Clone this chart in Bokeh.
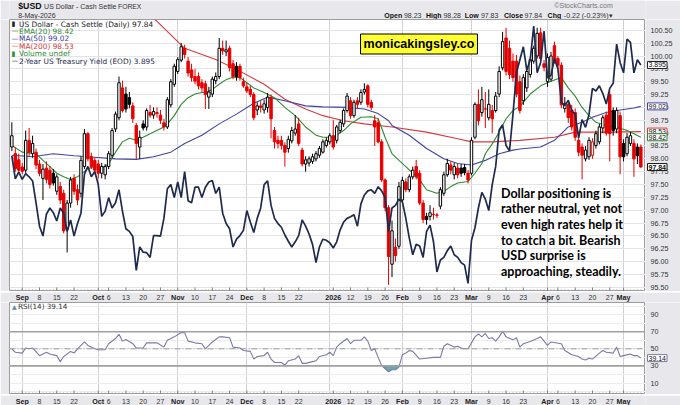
import pandas as pd
from bokeh.plotting import figure
from bokeh.models import Range1d, FixedTicker, Label, Span
from bokeh.layouts import column, row
from bokeh.embed import file_html
from bokeh.resources import INLINE

# ---------------- data ----------------
dates = pd.bdate_range("2025-08-27", "2026-05-08")

opens = [98.23, 98.10, 97.98, 97.84, 97.78, 98.36, 98.10, 98.13, 97.90, 97.62,
         97.82, 97.78, 97.72, 97.37, 97.46, 97.33, 96.63, 97.14, 97.62, 97.40,
         97.33, 97.85, 98.49, 98.04, 97.97, 97.90, 97.72, 97.69, 97.85, 98.07,
         98.58, 98.80, 99.38, 99.26, 99.19, 99.03, 98.65, 98.23, 98.68, 98.62,
         98.90, 98.85, 98.90, 98.85, 98.70, 98.62, 99.05, 99.45, 99.70, 99.92,
         100.15, 99.90, 99.73, 99.60, 99.60, 99.48, 99.46, 99.20, 99.26, 99.52,
         99.60, 100.15, 100.08, 100.15, 99.85, 99.80, 99.80, 99.50, 99.40, 99.35,
         99.25, 98.95, 99.03, 98.95, 99.00, 99.19, 98.55, 98.36, 98.36, 98.26,
         98.20, 98.35, 98.50, 98.68, 98.17, 97.90, 97.92, 97.95, 98.00, 98.07,
         98.13, 98.26, 98.33, 98.45, 98.36, 98.55, 98.68, 98.94, 99.13, 98.84,
         99.13, 99.10, 99.30, 99.42, 99.10, 98.74, 98.70, 98.33, 97.59, 97.05,
         95.95, 96.28, 96.30, 97.20, 97.55, 97.40, 97.65, 97.85, 97.72, 97.14,
         96.88, 96.88, 96.92, 96.90, 97.08, 97.33, 97.69, 97.88, 97.69, 97.82,
         97.82, 97.83, 97.72, 97.72, 98.42, 99.06, 98.90, 98.97, 98.80, 98.94,
         98.94, 99.26, 99.77, 100.35, 100.15, 99.90, 99.90, 99.50, 99.13, 99.38,
         99.64, 99.90, 100.00, 100.45, 99.85, 99.50, 99.55, 100.20, 99.95, 99.82,
         98.98, 99.06, 98.95, 98.90, 98.36, 98.23, 98.00, 98.04, 98.07, 98.26,
         98.33, 98.60, 98.85, 99.25, 98.94, 98.58, 98.84, 98.30, 98.10, 98.30,
         98.30, 98.23, 98.23]

highs = [98.71, 98.22, 98.10, 97.92, 98.55, 98.60, 98.45, 98.20, 97.98, 97.90,
         97.95, 97.86, 97.80, 97.70, 97.55, 97.40, 97.20, 97.65, 97.70, 97.50,
         98.05, 98.58, 98.52, 98.12, 98.02, 97.98, 97.92, 97.90, 98.15, 98.60,
         98.92, 99.60, 99.52, 99.40, 99.30, 99.10, 98.70, 98.55, 98.75, 98.98,
         99.05, 99.00, 99.00, 98.95, 98.78, 99.20, 99.55, 99.85, 99.98, 100.25,
         100.22, 99.98, 99.85, 99.75, 99.68, 99.55, 99.52, 99.40, 99.60, 99.68,
         100.35, 100.30, 100.30, 100.20, 99.92, 99.88, 99.85, 99.58, 99.48, 99.42,
         99.30, 99.10, 99.12, 99.15, 99.28, 99.25, 98.62, 98.45, 98.45, 98.32,
         98.45, 98.62, 98.85, 98.80, 98.22, 98.05, 98.05, 98.10, 98.15, 98.25,
         98.38, 98.42, 98.50, 98.75, 98.66, 98.76, 98.98, 99.28, 99.20, 99.15,
         99.20, 99.35, 99.47, 99.45, 99.15, 98.85, 98.78, 98.38, 97.62, 97.10,
         96.80, 96.45, 97.55, 97.65, 97.62, 97.70, 97.85, 97.98, 97.78, 97.20,
         96.95, 97.10, 97.05, 96.95, 97.45, 97.75, 98.00, 97.95, 97.92, 97.90,
         97.90, 97.90, 97.78, 98.42, 99.10, 99.35, 99.40, 99.30, 99.35, 99.05,
         99.30, 99.80, 100.47, 100.55, 100.30, 100.05, 100.02, 99.62, 99.65, 99.75,
         99.98, 100.20, 100.55, 100.55, 99.92, 100.05, 100.08, 100.28, 100.00, 99.88,
         99.20, 99.15, 99.05, 98.98, 98.45, 98.30, 98.25, 98.42, 98.40, 98.55,
         98.68, 98.85, 98.92, 99.32, 99.00, 99.00, 98.92, 98.38, 98.50, 98.52,
         98.38, 98.30, 98.28]

lows = [98.15, 97.75, 97.72, 97.70, 97.72, 98.05, 98.02, 97.80, 97.66, 97.20,
        97.52, 97.42, 97.48, 97.30, 97.12, 96.55, 96.18, 97.05, 97.30, 97.10,
        97.25, 97.80, 97.95, 97.80, 97.70, 97.62, 97.62, 97.60, 97.80, 98.02,
        98.52, 98.75, 98.90, 98.90, 98.98, 98.70, 98.00, 98.00, 98.55, 98.55,
        98.80, 98.78, 98.80, 98.68, 98.55, 98.58, 99.00, 99.40, 99.65, 99.88,
        99.95, 99.60, 99.50, 99.45, 99.35, 99.30, 98.97, 98.97, 99.20, 99.45,
        99.55, 100.02, 100.00, 99.70, 99.55, 99.52, 99.52, 99.38, 99.28, 99.20,
        98.75, 98.85, 98.90, 98.88, 98.90, 98.40, 98.20, 98.20, 98.18, 97.85,
        98.12, 98.30, 98.45, 98.25, 97.85, 97.75, 97.85, 97.90, 97.95, 98.02,
        98.10, 98.22, 98.28, 98.18, 98.30, 98.50, 98.62, 98.90, 98.78, 98.80,
        98.98, 99.05, 99.25, 99.00, 98.95, 98.25, 98.30, 97.55, 96.98, 95.55,
        95.70, 96.00, 96.25, 97.15, 97.35, 97.35, 97.60, 97.60, 97.10, 96.75,
        96.72, 96.80, 96.82, 96.85, 97.02, 97.28, 97.65, 97.70, 97.60, 97.62,
        97.65, 97.68, 97.52, 97.68, 98.38, 98.65, 98.82, 98.60, 98.75, 98.50,
        98.90, 99.20, 99.72, 99.62, 99.55, 99.50, 99.20, 98.88, 99.05, 99.30,
        99.58, 99.85, 99.95, 99.90, 99.70, 99.40, 99.50, 99.85, 99.75, 98.98,
        98.90, 98.70, 98.55, 98.35, 98.05, 97.60, 97.95, 97.98, 98.00, 98.20,
        98.28, 98.50, 98.45, 97.95, 98.45, 98.50, 97.70, 97.95, 98.05, 98.25,
        97.65, 97.90, 97.83]

closes = [98.45, 97.81, 97.78, 97.76, 98.36, 98.13, 98.30, 97.88, 97.72, 97.80,
          97.60, 97.50, 97.53, 97.65, 97.20, 96.60, 97.14, 97.59, 97.37, 97.20,
          97.97, 98.49, 98.00, 97.85, 97.78, 97.72, 97.85, 97.85, 98.10, 98.55,
          98.87, 99.48, 98.94, 98.97, 99.06, 98.78, 98.30, 98.42, 98.60, 98.94,
          98.85, 98.92, 98.88, 98.75, 98.62, 99.15, 99.50, 99.80, 99.93, 100.18,
          100.03, 99.67, 99.58, 99.51, 99.42, 99.38, 99.25, 99.30, 99.55, 99.60,
          100.15, 100.10, 100.12, 99.77, 99.60, 99.60, 99.58, 99.42, 99.32, 99.25,
          98.80, 99.03, 99.00, 99.07, 99.20, 98.78, 98.33, 98.30, 98.26, 98.13,
          98.38, 98.55, 98.58, 98.30, 97.90, 97.98, 98.00, 98.04, 98.10, 98.20,
          98.33, 98.36, 98.45, 98.23, 98.62, 98.71, 98.94, 99.22, 98.84, 99.10,
          99.06, 99.29, 99.35, 99.06, 99.00, 98.62, 98.33, 97.59, 97.05, 96.10,
          96.60, 96.12, 97.46, 97.58, 97.40, 97.65, 97.78, 97.65, 97.14, 96.82,
          96.82, 96.95, 96.92, 96.91, 97.40, 97.69, 97.91, 97.78, 97.85, 97.69,
          97.72, 97.73, 97.59, 98.36, 99.06, 98.74, 99.15, 98.97, 99.06, 98.78,
          99.22, 99.70, 100.28, 99.70, 99.64, 99.58, 99.26, 98.94, 99.58, 99.70,
          99.93, 100.15, 100.44, 99.95, 99.78, 99.97, 100.00, 99.90, 99.82, 99.05,
          99.08, 98.80, 98.62, 98.42, 98.13, 98.07, 98.17, 98.36, 98.33, 98.49,
          98.62, 98.80, 98.50, 98.49, 98.55, 98.94, 98.04, 98.04, 98.42, 98.45,
          98.00, 98.06, 97.84]

# 2-Year US Treasury yield (EOD), one value per trading day
yields = [3.720, 3.676, 3.689, 3.675, 3.686, 3.680, 3.672, 3.630, 3.585, 3.566,
          3.608, 3.620, 3.611, 3.595, 3.620, 3.610, 3.575, 3.597, 3.566, 3.590,
          3.610, 3.685, 3.700, 3.680, 3.690, 3.665, 3.604, 3.614, 3.640, 3.620,
          3.630, 3.655, 3.614, 3.580, 3.575, 3.565, 3.500, 3.545, 3.535, 3.534,
          3.525, 3.567, 3.567, 3.566, 3.600, 3.657, 3.665, 3.640, 3.670, 3.640,
          3.690, 3.634, 3.630, 3.660, 3.660, 3.640, 3.660, 3.670, 3.673, 3.648,
          3.660, 3.610, 3.590, 3.580, 3.545, 3.560, 3.567, 3.577, 3.615, 3.593,
          3.573, 3.600, 3.620, 3.665, 3.672, 3.625, 3.600, 3.590, 3.583, 3.568,
          3.556, 3.545, 3.555, 3.567, 3.597, 3.585, 3.570, 3.550, 3.515, 3.545,
          3.560, 3.558, 3.553, 3.543, 3.555, 3.578, 3.593, 3.600, 3.603, 3.607,
          3.585, 3.628, 3.645, 3.653, 3.655, 3.648, 3.661, 3.653, 3.640, 3.575,
          3.620, 3.625, 3.637, 3.632, 3.600, 3.562, 3.530, 3.550, 3.547, 3.525,
          3.575, 3.587, 3.555, 3.497, 3.520, 3.525, 3.538, 3.547, 3.530, 3.525,
          3.515, 3.510, 3.475, 3.558, 3.582, 3.620, 3.650, 3.637, 3.615, 3.665,
          3.700, 3.770, 3.780, 3.740, 3.730, 3.800, 3.880, 3.905, 3.930, 3.885,
          3.905, 3.970, 3.880, 3.900, 3.960, 3.870, 3.875, 3.907, 3.888, 3.823,
          3.817, 3.827, 3.807, 3.800, 3.755, 3.790, 3.775, 3.800, 3.850, 3.845,
          3.855, 3.840, 3.820, 3.850, 3.860, 3.935, 3.900, 3.880, 3.945, 3.938,
          3.880, 3.905, 3.895]

ema_idx = [0, 3, 7, 9, 11, 13, 15, 17, 19, 22,
           24, 26, 28, 30, 32, 34, 36, 38, 41, 44,
           45, 47, 49, 51, 53, 55, 56, 58, 60, 62,
           64, 66, 68, 70, 72, 73, 76, 79, 82, 85,
           88, 90, 93, 96, 98, 101, 104, 106, 108, 110,
           112, 114, 116, 118, 120, 123, 125, 127, 129, 132,
           134, 136, 137, 139, 141, 143, 145, 147, 150, 153,
           156, 159, 161, 163, 165, 167, 169, 172, 175, 178,
           180, 182]
ema_val = [98.26, 98.13, 98.10, 97.97, 97.85, 97.72, 97.65, 97.60, 97.65, 97.81,
           97.85, 97.82, 97.90, 98.13, 98.33, 98.40, 98.36, 98.42, 98.52, 98.62,
           98.68, 98.84, 99.06, 99.19, 99.26, 99.29, 99.29, 99.35, 99.45, 99.54,
           99.59, 99.58, 99.48, 99.38, 99.32, 99.29, 99.19, 99.00, 98.84, 98.62,
           98.46, 98.42, 98.42, 98.55, 98.68, 98.81, 98.82, 98.78, 98.42, 98.10,
           97.97, 97.85, 97.72, 97.59, 97.40, 97.33, 97.37, 97.46, 97.53, 97.56,
           97.72, 97.91, 98.10, 98.29, 98.52, 98.78, 98.94, 99.02, 99.26, 99.42,
           99.51, 99.58, 99.38, 99.22, 99.00, 98.84, 98.71, 98.65, 98.62, 98.55,
           98.49, 98.42]

ma50_idx = [0, 6, 12, 18, 24, 30, 36, 41, 46, 50,
            55, 60, 65, 70, 74, 79, 85, 90, 97, 102,
            106, 109, 110, 115, 120, 125, 129, 133, 137, 141,
            145, 147, 153, 157, 161, 165, 168, 172, 176, 180,
            182]
ma50_val = [98.07, 98.04, 98.10, 98.06, 98.03, 98.00, 97.99, 98.04, 98.13, 98.30,
            98.46, 98.68, 98.87, 99.08, 99.20, 99.13, 99.03, 99.01, 99.00, 98.97,
            98.88, 98.74, 98.65, 98.46, 98.20, 98.00, 97.91, 97.88, 97.97, 98.10,
            98.17, 98.19, 98.23, 98.36, 98.62, 98.71, 98.81, 98.90, 98.95, 98.99,
            99.02]

ma200_idx = [41, 50, 59, 65, 73, 79, 85, 90, 96, 102,
             110, 120, 129, 133, 139, 147, 157, 163, 173, 182]
ma200_val = [100.74, 100.15, 99.93, 99.74, 99.45, 99.16, 98.97, 98.84, 98.74, 98.68,
             98.62, 98.52, 98.39, 98.33, 98.33, 98.36, 98.42, 98.52, 98.52, 98.53]

rsi_idx = [0, 1, 3, 4, 5, 6, 8, 10, 11, 13,
           14, 15, 17, 18, 19, 21, 22, 24, 25, 27,
           28, 30, 31, 32, 33, 35, 36, 38, 39, 41,
           42, 44, 45, 47, 49, 50, 51, 53, 55, 56,
           57, 58, 60, 61, 63, 64, 66, 67, 69, 70,
           71, 73, 74, 75, 76, 78, 79, 80, 82, 83,
           84, 85, 87, 88, 89, 91, 92, 93, 94, 95,
           97, 98, 99, 101, 102, 103, 104, 105, 106, 107,
           109, 110, 111, 112, 113, 114, 115, 116, 118, 120,
           122, 124, 125, 126, 128, 129, 130, 131, 132, 134,
           135, 136, 137, 138, 139, 140, 141, 142, 143, 145,
           146, 147, 148, 150, 152, 153, 155, 156, 159, 160,
           162, 164, 165, 166, 167, 168, 170, 171, 172, 174,
           175, 176, 177, 179, 180, 181, 182]
rsi_val = [50, 46, 45, 51, 50, 51, 42, 46, 44, 42,
           35, 41, 47, 45, 50, 58, 54, 50, 49, 49,
           56, 62, 67, 59, 61, 56, 51, 51, 57, 57,
           57, 52, 60, 64, 69, 69, 59, 57, 56, 50,
           54, 58, 64, 64, 63, 52, 51, 48, 47, 38,
           41, 42, 46, 38, 34, 34, 31, 36, 38, 42,
           33, 33, 35, 36, 41, 43, 46, 42, 52, 56,
           62, 56, 60, 60, 64, 59, 48, 50, 40, 30.5,
           23, 25.5, 25.5, 28.6, 43, 45, 48, 47, 38, 39,
           40, 40, 53, 56, 52, 53, 51, 50, 50, 64,
           67.5, 64, 68, 62, 63, 59, 64, 70.7, 64, 60.5,
           63, 52, 56, 58.6, 62, 64, 54, 58, 56, 48,
           43, 41, 38, 37, 39, 38, 45, 48, 46, 45,
           52, 41, 42, 44, 42, 42, 39.14]

week_ticks = ["2025-09-08", "2025-09-15", "2025-09-22", "2025-10-06", "2025-10-13",
              "2025-10-20", "2025-10-27", "2025-11-10", "2025-11-17", "2025-11-24",
              "2025-12-08", "2025-12-15", "2025-12-22", "2026-01-12", "2026-01-19",
              "2026-01-26", "2026-02-09", "2026-02-16", "2026-02-23", "2026-03-09",
              "2026-03-16", "2026-03-23", "2026-04-06", "2026-04-13", "2026-04-20",
              "2026-04-27"]
week_labels = ["8", "15", "22", "6", "13", "20", "27", "10", "17", "24", "8", "15", "22",
               "12", "19", "26", "9", "16", "23", "9", "16", "23", "6", "13", "20", "27"]
month_ticks = ["2025-09-01", "2025-10-01", "2025-11-03", "2025-12-01", "2026-01-05",
               "2026-02-02", "2026-03-02", "2026-04-01", "2026-05-01"]
month_labels = ["Sep", "Oct", "Nov", "Dec", "2026", "Feb", "Mar", "Apr", "May"]
grid_months = ["2025-09-01", "2025-10-01", "2025-11-03", "2025-12-01", "2026-01-02",
               "2026-02-02", "2026-03-02", "2026-04-01", "2026-05-01"]

price_ticks = [95.50, 95.75, 96.00, 96.25, 96.50, 96.75, 97.00, 97.25, 97.50, 97.75,
               98.00, 98.25, 98.50, 98.75, 99.00, 99.25, 99.50, 99.75, 100.00, 100.25,
               100.50]
rsi_ticks = [10, 30, 50, 70, 90]
rsi_grid = [0, 10, 20, 30, 40, 50, 60, 70, 80, 90, 100]

note_lines = ["Dollar positioning is", "rather neutral, yet not", "even high rates help it",
              "to catch a bit. Bearish", "USD surprise is", "approaching, steadily."]

# ---------------- layout constants ----------------
N = len(closes)
idx = list(range(N))
pos = {d.strftime("%Y-%m-%d"): i for i, d in enumerate(dates)}
week_pos = [pos[d] for d in week_ticks]
month_pos = [pos[d] for d in month_ticks]
grid_pos = [pos[d] for d in grid_months]

W = 680
LB = 9             # left border
AXW = 35           # right axis strip width
FW = W - LB - AXW  # frame width (636)
H_HEAD, H_MAIN, H_STRIP, H_RSI = 19, 272, 11, 92

X0 = (LB - 11.35) / 3.456
X1 = X0 + FW / 3.456
Y0, Y1 = 95.42, 100.71
R0, R1 = -3.45, 104.2
YL0, YL1 = 3.4594, 3.9825


def fx(px):  # reference pixel x -> day index
    return (px - 11.35) / 3.456


def fy(py):  # reference pixel y -> price
    return Y1 - (py - 19.0) * (Y1 - Y0) / 272.0


def fr(py):  # reference pixel y -> RSI
    return 50.0 - (py - 348.3) / 0.855


BG = "#e8e8ec"
EDGE = "#9c9c9c"
RED = "#e60000"
EMA_C = "#2f8a2f"
MA50_C = "#4242a2"
MA200_C = "#d43c3c"
YLD_C = "#1e2a4e"
RSI_C = "#7a7aa8"
TXT = "#333333"
FONT = "Liberation Sans"

COMMON = dict(output_backend="svg", toolbar_location=None,
              x_axis_location=None, y_axis_location=None)


def plain(fig):
    fig.background_fill_color = BG
    fig.border_fill_color = BG
    fig.outline_line_color = None
    fig.xgrid.visible = False
    fig.ygrid.visible = False


def panel(height, yr):
    fig = figure(width=FW + LB, height=height, x_range=shared_x, y_range=yr,
                 min_border_left=LB, min_border_right=0, min_border_top=0,
                 min_border_bottom=0, **COMMON)
    fig.background_fill_color = "white"
    fig.border_fill_color = BG
    fig.outline_line_color = EDGE
    fig.xgrid.ticker = FixedTicker(ticks=grid_pos)
    fig.xgrid.grid_line_color = "#d0d0d8"
    y0, y1 = yr.start, yr.end
    unit = (y1 - y0) / height
    majors = week_pos + month_pos
    fig.segment(x0=idx, y0=[y0] * N, x1=idx, y1=[y0 + 2 * unit] * N,
                line_color="#a0a0a0", line_width=1)
    fig.segment(x0=majors, y0=[y0] * len(majors), x1=majors,
                y1=[y0 + 4 * unit] * len(majors), line_color="#808080", line_width=1)
    return fig


def axis_strip(height, yr, ticks, fmt):
    fig = figure(width=AXW, height=height, x_range=Range1d(0, AXW), y_range=yr,
                 min_border=0, **COMMON)
    plain(fig)
    for t in ticks:
        fig.add_layout(Label(x=5, y=t, text=fmt % t, text_baseline="middle",
                             text_font=FONT, text_font_size="7.2px", text_color=TXT))
    return fig


def tag(fig, yv, text, color, bold=False, rng="default"):
    fig.add_layout(Label(x=2, y=yv, text=text, text_align="left",
                         text_baseline="middle", text_font=FONT, text_font_size="7px",
                         text_font_style="bold" if bold else "normal",
                         text_color="#111111", background_fill_color="white",
                         border_line_color=color, border_line_width=1, padding=1,
                         y_range_name=rng))


def date_strip(yc):
    fig = figure(width=W, height=H_STRIP, x_range=shared_x, y_range=Range1d(H_STRIP, 0),
                 min_border_left=LB, min_border_right=AXW, min_border_top=0,
                 min_border_bottom=0, **COMMON)
    plain(fig)
    for t, s in zip(week_pos, week_labels):
        fig.add_layout(Label(x=t, y=yc, text=s, text_align="center", text_baseline="middle",
                             text_font=FONT, text_font_size="7px", text_color=TXT))
    for t, s in zip(month_pos, month_labels):
        fig.add_layout(Label(x=t, y=yc, text=s, text_align="center", text_baseline="middle",
                             text_font=FONT, text_font_size="7.2px", text_font_style="bold",
                             text_color="#222222"))
    return fig


shared_x = Range1d(X0, X1)

# ---------------- header ----------------
head = figure(width=W, height=H_HEAD, x_range=Range1d(0, W), y_range=Range1d(H_HEAD, 0),
              min_border=0, **COMMON)
plain(head)
head.add_layout(Label(x=9.3, y=5.5, text="$USD", text_baseline="middle", text_font=FONT,
                      text_font_size="8.8px", text_font_style="bold", text_color="#111111"))
head.add_layout(Label(x=37, y=5.8, text="US Dollar - Cash Settle", text_baseline="middle",
                      text_font=FONT, text_font_size="7px", text_color=TXT))
head.add_layout(Label(x=116, y=5.8, text="FOREX", text_baseline="middle",
                      text_font=FONT, text_font_size="6.8px", text_color=TXT))
head.add_layout(Label(x=9.3, y=14.5, text="8-May-2026", text_baseline="middle",
                      text_font=FONT, text_font_size="7px", text_color=TXT))
head.add_layout(Label(x=645, y=5.0, text="\u00A9StockCharts.com", text_align="right",
                      text_baseline="middle", text_font=FONT, text_font_size="7px",
                      text_color="#777777"))
ohlc = [(400.7, "Open", True), (421.7, "98.23", False), (445.3, "High", True),
        (464.0, "98.28", False), (486.7, "Low", True), (504.0, "97.83", False),
        (528.7, "Close", True), (550.7, "97.84", False), (575.3, "Chg", True),
        (592.7, "-0.22 (-0.23%)", False), (641.0, "\u25BE", False)]
for xx, t, b in ohlc:
    head.add_layout(Label(x=xx, y=14.5, text=t, text_baseline="middle", text_font=FONT,
                          text_font_size="7px", text_font_style="bold" if b else "normal",
                          text_color="#111111" if b else TXT))

# ---------------- main price panel ----------------
yr_main = Range1d(Y0, Y1)
yr_yld = Range1d(YL0, YL1)
p = panel(H_MAIN, yr_main)
p.extra_y_ranges = {"yld": yr_yld}
p.ygrid.ticker = FixedTicker(ticks=price_ticks)
p.ygrid.grid_line_color = "#e4e4e8"

prev = [opens[0]] + closes[:-1]
col = [RED if c < pc else "#000000" for c, pc in zip(closes, prev)]
fill = ["#ffffff" if c > o else k for c, o, k in zip(closes, opens, col)]
tops = [max(o, c) for o, c in zip(opens, closes)]
bots = [min(o, c) for o, c in zip(opens, closes)]

p.line(ma200_idx, ma200_val, line_color=MA200_C, line_width=1.1)
p.line(ma50_idx, ma50_val, line_color=MA50_C, line_width=1.1)
p.line(ema_idx, ema_val, line_color=EMA_C, line_width=1.1)
p.segment(x0=idx, y0=lows, x1=idx, y1=highs, line_color=col, line_width=1)
p.vbar(x=idx, width=0.7, top=tops, bottom=bots, fill_color=fill, line_color=col, line_width=1)
p.line(idx, yields, line_color=YLD_C, line_width=1.7, y_range_name="yld")

legend = [("US Dollar - Cash Settle (Daily) 97.84", "#222222", "\u25AE"),
          ("EMA(20) 98.42", EMA_C, "\u2014"),
          ("MA(50) 99.02", MA50_C, "\u2014"),
          ("MA(200) 98.53", MA200_C, "\u2014"),
          ("Volume undef", EMA_C, "\u25AE"),
          ("2-Year US Treasury Yield (EOD) 3.895", YLD_C, "\u2014")]
for k, (t, c, ic) in enumerate(legend):
    yy = fy(23.5 + 7.4 * k)
    p.add_layout(Label(x=fx(11.0), y=yy, text=ic, text_baseline="middle", text_font="DejaVu Sans",
                       text_font_size="7px", text_color=c))
    p.add_layout(Label(x=fx(18.5), y=yy, text=t, text_baseline="middle", text_font="DejaVu Sans",
                       text_font_size="7.4px", text_color=c))

p.add_layout(Label(x=fx(418.5), y=fy(43.5), text="monicakingsley.co", text_align="center",
                   text_baseline="middle", text_font=FONT, text_font_size="12.5px",
                   text_font_style="bold", text_color="#000000", background_fill_color="#ffff33",
                   border_line_color="#000000", border_line_width=1, padding=3))
for k, t in enumerate(note_lines):
    p.add_layout(Label(x=fx(500.5), y=fy(192.5 + 15.7 * k), text=t, text_baseline="middle",
                       text_font="Lato", text_font_size="12.5px", text_font_style="bold",
                       text_color="#000000"))

pax = axis_strip(H_MAIN, yr_main, price_ticks, "%.2f")
pax.extra_y_ranges = {"yld": yr_yld}
tag(pax, yields[-1], "3.895", "#222222", rng="yld")
tag(pax, ma50_val[-1], "99.02", MA50_C)
tag(pax, ma200_val[-1], "98.53", MA200_C)
tag(pax, ema_val[-1], "98.42", EMA_C)
tag(pax, closes[-1], "97.84", "#111111", bold=True)

# ---------------- RSI panel ----------------
yr_rsi = Range1d(R0, R1)
r = panel(H_RSI, yr_rsi)
r.ygrid.ticker = FixedTicker(ticks=rsi_grid)
r.ygrid.grid_line_color = "#ececf0"
r.add_layout(Span(location=70, dimension="width", line_color="#a0a0a0", line_width=1.6))
r.add_layout(Span(location=30, dimension="width", line_color="#a0a0a0", line_width=1.6))
r.add_layout(Span(location=50, dimension="width", line_color="#9a9a9a", line_width=1,
                  line_dash="6 2 1 2"))
r.varea(x=rsi_idx, y1=[min(v, 30) for v in rsi_val], y2=[30] * len(rsi_val),
        fill_color="#4f9999", fill_alpha=0.85)
r.line(rsi_idx, rsi_val, line_color=RSI_C, line_width=1.1)
r.add_layout(Label(x=fx(11.5), y=fr(305.5), text="\u25B2", text_baseline="middle",
                   text_font="DejaVu Sans", text_font_size="6px", text_color="#5a8a9a"))
r.add_layout(Label(x=fx(17.5), y=fr(305.5), text="RSI(14) 39.14", text_baseline="middle",
                   text_font="DejaVu Sans", text_font_size="7.2px", text_color=TXT))

rax = axis_strip(H_RSI, yr_rsi, rsi_ticks, "%d")
tag(rax, rsi_val[-1], "39.14", RSI_C)

layout = column(head, row(p, pax, spacing=0), date_strip(5.0),
                row(r, rax, spacing=0), date_strip(5.8), spacing=0)
open("out.html", "w").write(file_html(layout, INLINE))
